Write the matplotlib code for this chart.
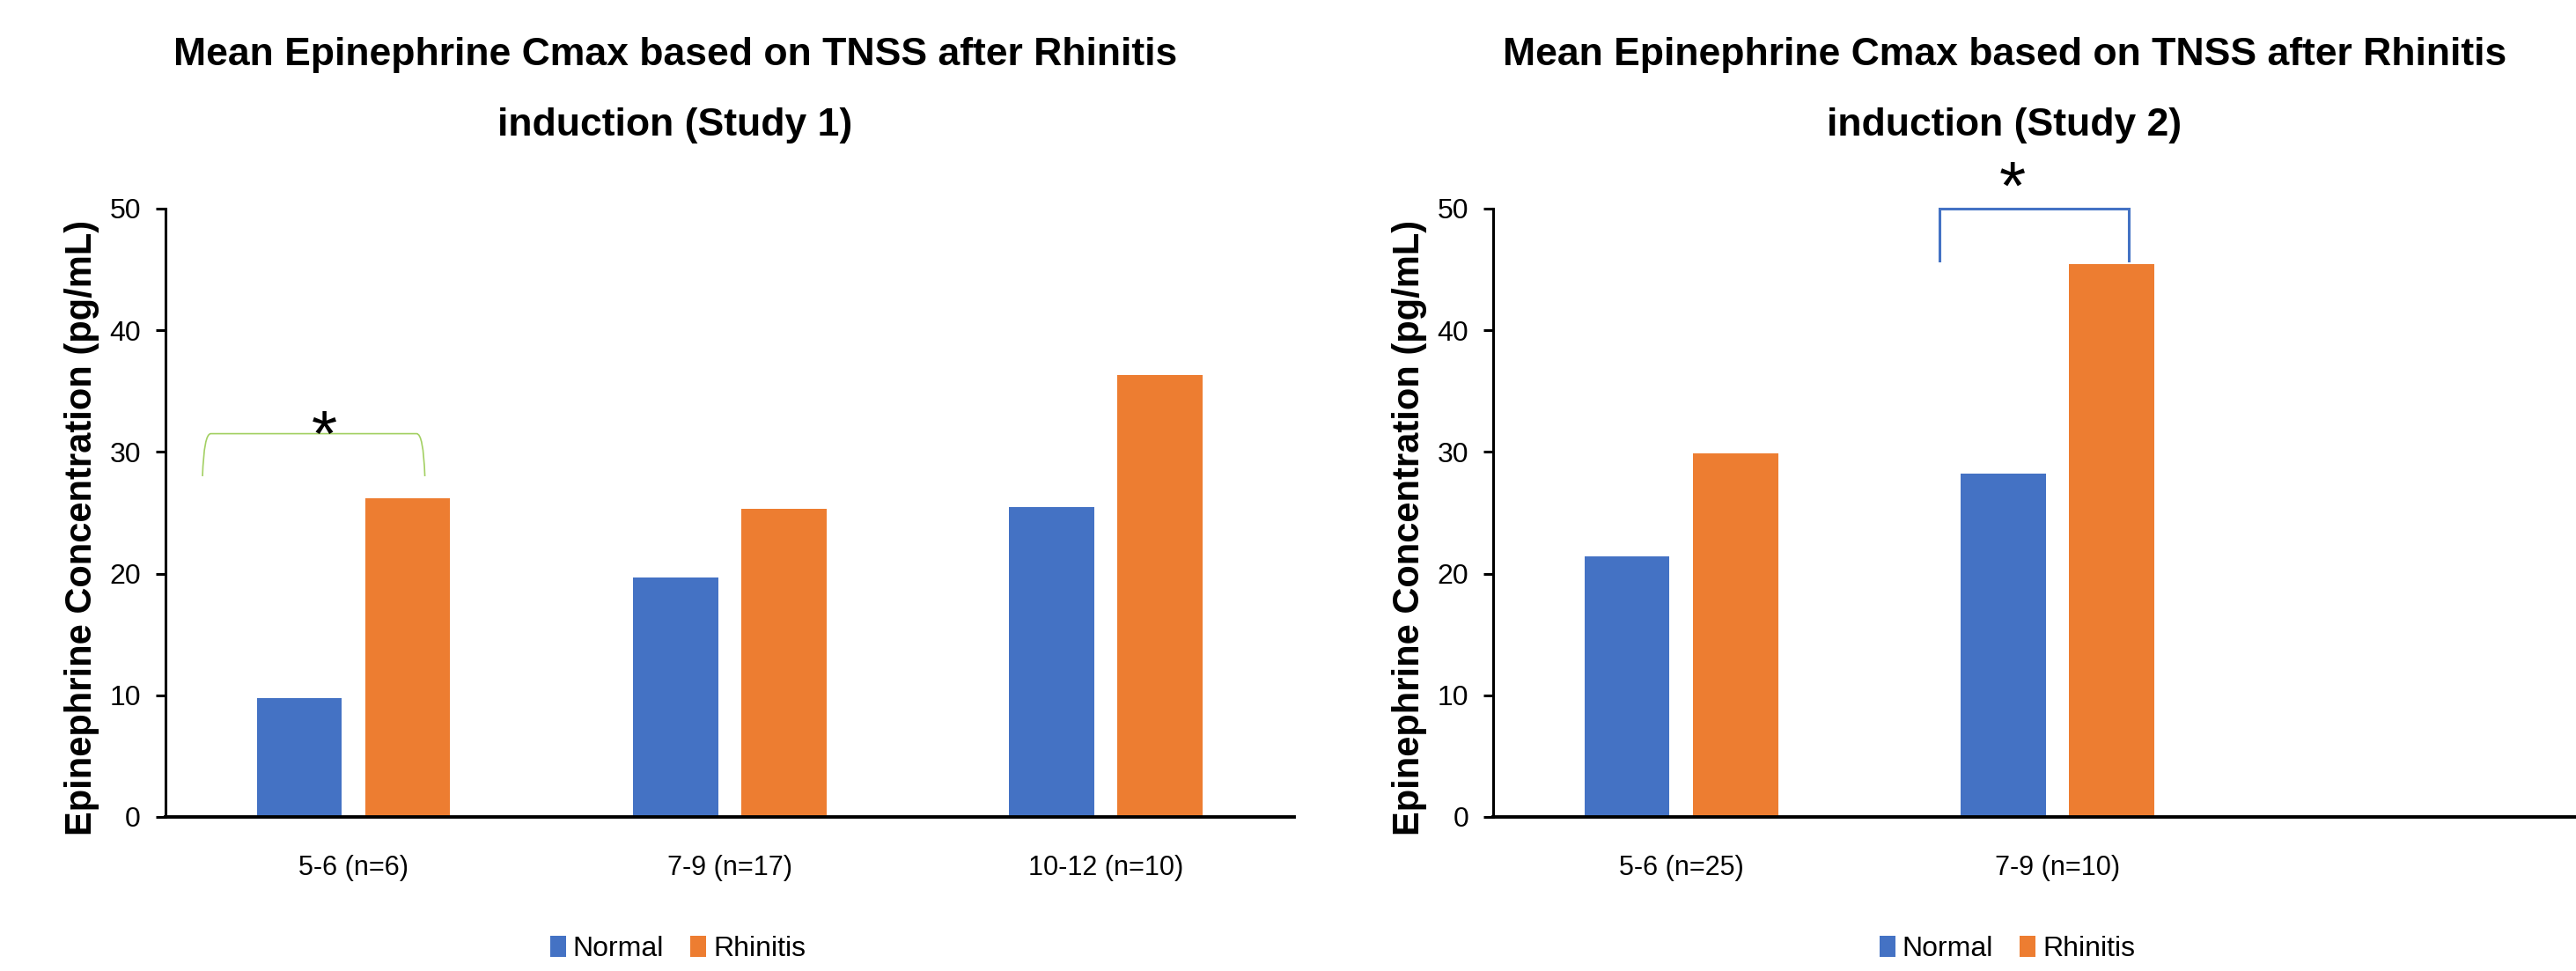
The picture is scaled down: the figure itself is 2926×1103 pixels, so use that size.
import numpy as np
import matplotlib.pyplot as plt
from matplotlib.path import Path
from matplotlib.patches import PathPatch

# mean epinephrine Cmax (pg/mL) per TNSS group
groups1 = ['5-6 (n=6)', '7-9 (n=17)', '10-12 (n=10)']
normal1 = [9.8, 19.7, 25.5]
rhinitis1 = [26.2, 25.3, 36.3]

groups2 = ['5-6 (n=25)', '7-9 (n=10)']
normal2 = [21.4, 28.2]
rhinitis2 = [29.9, 45.4]

BLUE = '#4472C4'
ORANGE = '#ED7D31'
W, H = 2926, 1103

plt.rcParams['font.family'] = ['Liberation Sans', 'DejaVu Sans']

fig = plt.figure(figsize=(W / 100, H / 100), dpi=100)
fig.patch.set_facecolor('white')


def panel(left, labels, normal, rhinitis, study, cx):
    ax = fig.add_axes([left, 0.1587, 0.4382, 0.6265])
    x = np.arange(len(labels))
    ax.bar(x - 0.144, normal, 0.226, color=BLUE, label='Normal')
    ax.bar(x + 0.144, rhinitis, 0.226, color=ORANGE, label='Rhinitis')
    ax.set_xlim(-0.5, 2.5)
    ax.set_ylim(0, 50)
    ax.set_yticks(range(0, 51, 10))
    ax.set_xticks(x, labels)
    for s in ('top', 'right'):
        ax.spines[s].set_visible(False)
    ax.spines['left'].set_linewidth(2.2)
    ax.spines['bottom'].set_linewidth(2.8)
    ax.tick_params(axis='y', length=8, width=2.2, pad=12, labelsize=23)
    ax.tick_params(axis='x', length=0, pad=31, labelsize=22)
    ax.set_ylabel('Epinephrine Concentration (pg/mL)', fontsize=30,
                  fontweight='bold')
    ax.yaxis.set_label_coords(-0.0583, 0.476)

    # two-line title, centred over the chart area
    fig.text(cx / W, 1 - 74 / H,
             'Mean Epinephrine Cmax based on TNSS after Rhinitis',
             ha='center', va='baseline', fontsize=32, fontweight='bold')
    fig.text(cx / W, 1 - 154 / H, f'induction (Study {study})',
             ha='center', va='baseline', fontsize=32, fontweight='bold')

    ax.legend(loc='center', bbox_to_anchor=((cx + 3) / W, 0.0227),
              bbox_transform=fig.transFigure, ncol=2, frameon=False,
              fontsize=23, handlelength=0.56, handleheight=0.78,
              handletextpad=0.25, columnspacing=0.94)
    return ax


ax1 = panel(187.7 / W, groups1, normal1, rhinitis1, 1, 767)
ax2 = panel(1696 / W, groups2, normal2, rhinitis2, 2, 2277)

# significance bracket, study 1 (rounded green)
x0, x1, lo, hi = -0.401, 0.190, 28.0, 31.5
verts = [(x0, lo), (x0 + 0.004, hi), (x0 + 0.022, hi),
         (x1 - 0.022, hi), (x1 - 0.004, hi), (x1, lo)]
codes = [Path.MOVETO, Path.CURVE3, Path.CURVE3,
         Path.LINETO, Path.CURVE3, Path.CURVE3]
ax1.add_patch(PathPatch(Path(verts, codes), fill=False, edgecolor='#A3D063',
                        linewidth=1.2, clip_on=False))
ax1.text(-0.078, 29.7, '*', ha='center', va='baseline', fontsize=54)

# significance bracket, study 2
ax2.plot([0.686, 0.686, 1.189, 1.189], [45.7, 50.0, 50.0, 45.7],
         color=BLUE, linewidth=2.2, clip_on=False, solid_joinstyle='miter')
ax2.text(0.880, 49.95, '*', ha='center', va='baseline', fontsize=56)

fig.savefig('out.png', dpi=100)
